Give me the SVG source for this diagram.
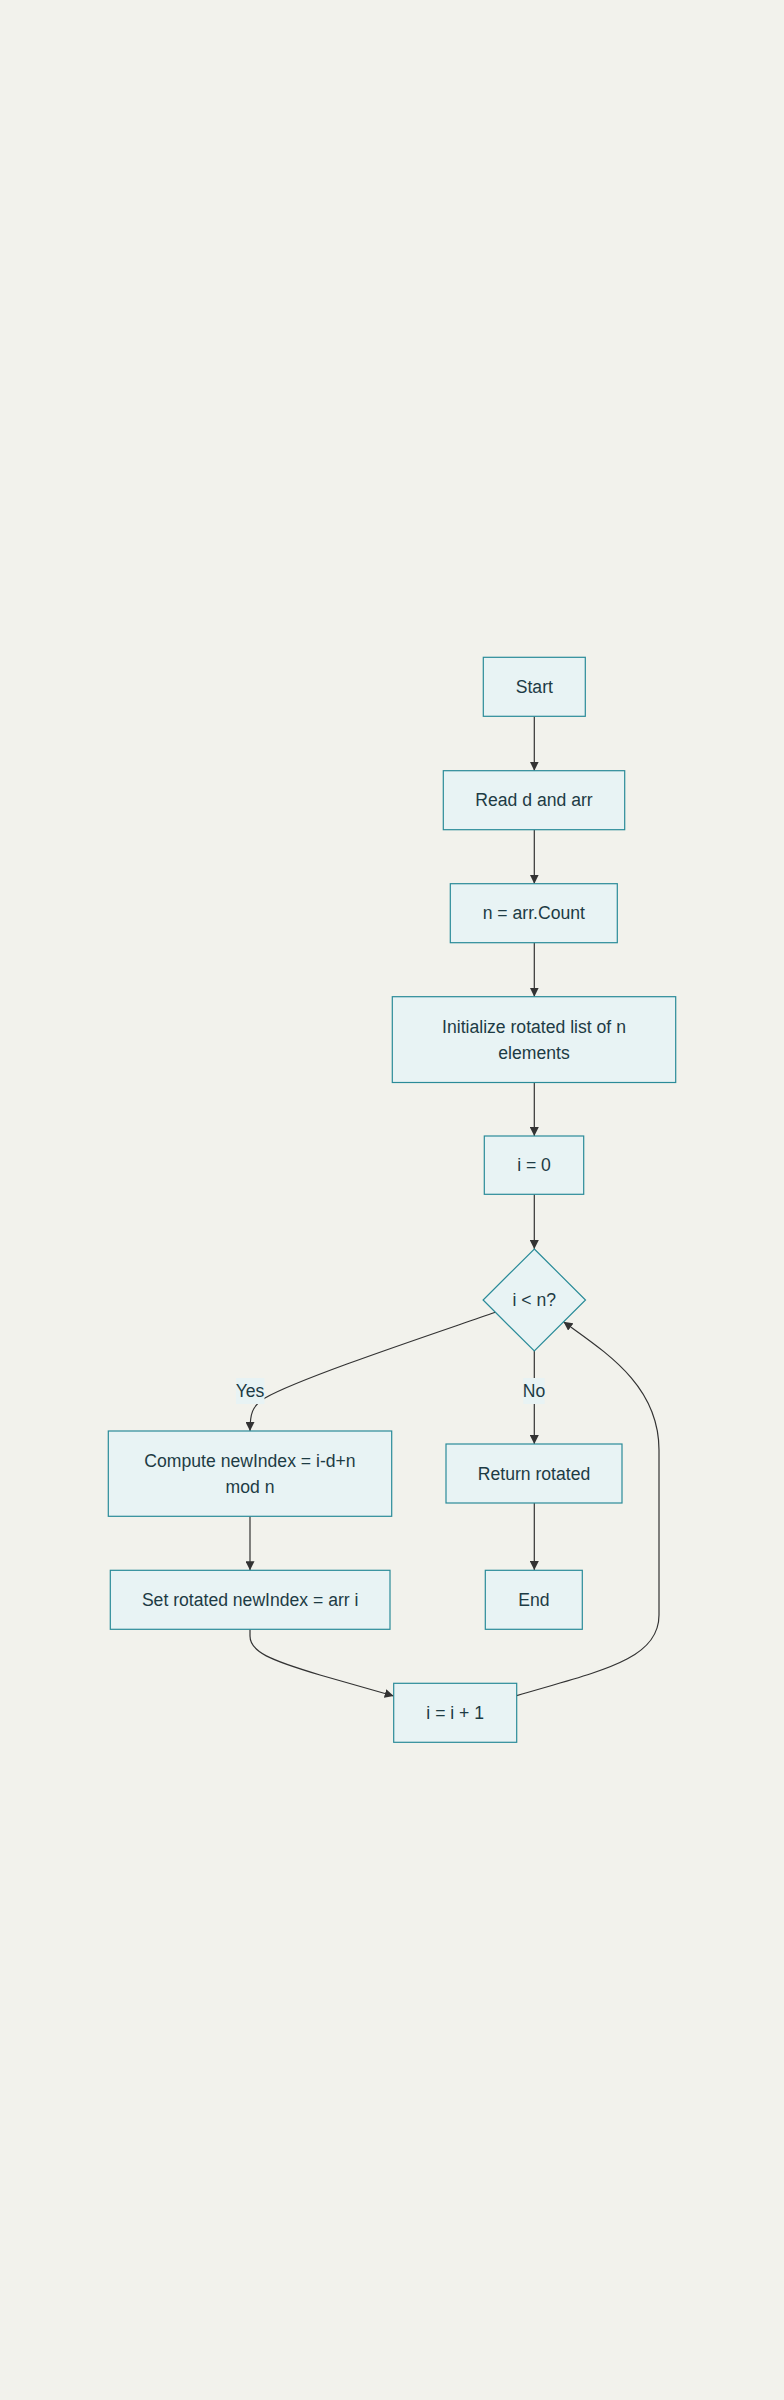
<svg xmlns="http://www.w3.org/2000/svg" width="784" height="2400" viewBox="0 0 784 2400">
<style>
.n{fill:#e8f3f4;stroke:#2a8b98;stroke-width:1.2}
.t{font-family:"Liberation Sans",Arial,sans-serif;font-size:17.6px;fill:#1d3b44;text-anchor:middle}
.e{fill:none;stroke:#333;stroke-width:1.2}
.lb{fill:#e8f3f4}
</style>
<defs>
<marker id="ah" markerUnits="userSpaceOnUse" markerWidth="9" markerHeight="9" viewBox="0 0 10 10" refX="10" refY="5" orient="auto">
<path d="M0,0 L10,5 L0,10 z" fill="#333"/>
</marker>
</defs>
<rect width="784" height="2400" fill="#f2f2ec"/>
<g id="edges">
<path class="e" marker-end="url(#ah)" d="M534.3,716.3 L534.3,770.7"/>
<path class="e" marker-end="url(#ah)" d="M534.3,829.7 L534.3,883.7"/>
<path class="e" marker-end="url(#ah)" d="M534.3,942.7 L534.3,996.7"/>
<path class="e" marker-end="url(#ah)" d="M534.3,1082.5 L534.3,1136"/>
<path class="e" marker-end="url(#ah)" d="M534.3,1194.3 L534.3,1249"/>
<path class="e" marker-end="url(#ah)" d="M495.3,1312.3 C430,1335 300,1378 265,1398 C252,1406 250,1414 250,1431"/>
<path class="e" marker-end="url(#ah)" d="M534.3,1351 L534.3,1444"/>
<path class="e" marker-end="url(#ah)" d="M250,1516.3 L250,1570.3"/>
<path class="e" marker-end="url(#ah)" d="M534.3,1503 L534.3,1570"/>
<path class="e" marker-end="url(#ah)" d="M250,1629.3 L250,1636 C250,1652 270,1660 320,1675 L393.7,1696"/>
<path class="e" marker-end="url(#ah)" d="M516.7,1695.7 C600,1671 659,1660 659,1615 L659,1450 C659,1385 605,1352 563.5,1321.7"/>
<g id="label-yes"><rect class="lb" x="236" y="1378" width="28.5" height="26"/><text class="t" x="250" y="1397.2">Yes</text></g>
<g id="label-no"><rect class="lb" x="523.3" y="1378" width="21.4" height="26"/><text class="t" x="534" y="1397.2">No</text></g>
</g>
<g id="start"><rect class="n" x="483.3" y="657.3" width="102" height="59"/><text class="t" x="534.3" y="693">Start</text></g>
<g id="read"><rect class="n" x="443.3" y="770.7" width="181.4" height="59"/><text class="t" x="534" y="806.4">Read d and arr</text></g>
<g id="count"><rect class="n" x="450.3" y="883.7" width="167" height="59"/><text class="t" x="533.8" y="919.4">n = arr.Count</text></g>
<g id="init"><rect class="n" x="392.3" y="996.7" width="283.4" height="85.8"/><text class="t" x="534" y="1032.6">Initialize rotated list of n</text><text class="t" x="534" y="1059">elements</text></g>
<g id="i0"><rect class="n" x="484.3" y="1136" width="99.4" height="58.3"/><text class="t" x="534" y="1171.4">i = 0</text></g>
<g id="cond"><polygon class="n" points="534.3,1249 585.5,1300 534.3,1351 483.1,1300"/><text class="t" x="534.3" y="1306.2">i &lt; n?</text></g>
<g id="compute"><rect class="n" x="108.3" y="1431" width="283.4" height="85.3"/><text class="t" x="250" y="1466.7">Compute newIndex = i-d+n</text><text class="t" x="250" y="1493.1">mod n</text></g>
<g id="return"><rect class="n" x="446" y="1444" width="176" height="59"/><text class="t" x="534" y="1479.7">Return rotated</text></g>
<g id="set"><rect class="n" x="110.3" y="1570.3" width="279.7" height="59"/><text class="t" x="250.2" y="1606">Set rotated newIndex = arr i</text></g>
<g id="end"><rect class="n" x="485.3" y="1570.3" width="97" height="59"/><text class="t" x="533.8" y="1606">End</text></g>
<g id="inc"><rect class="n" x="393.7" y="1683.3" width="123" height="59"/><text class="t" x="455.2" y="1719">i = i + 1</text></g>
</svg>
